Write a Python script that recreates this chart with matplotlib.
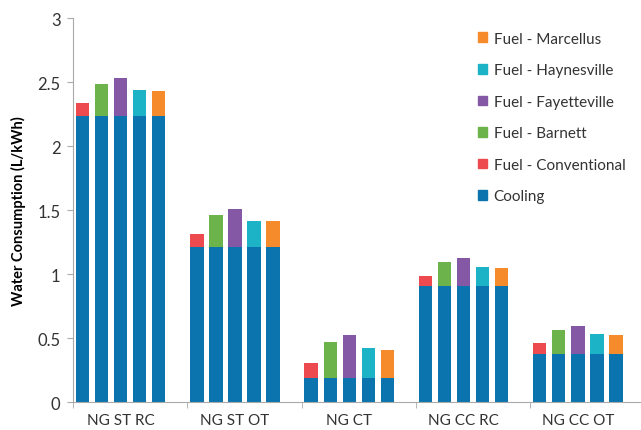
import numpy as np
import matplotlib.pyplot as plt
from matplotlib.patches import Patch

plt.rcParams['font.family'] = ['Lato', 'DejaVu Sans']

# categories
groups = ['NG ST RC', 'NG ST OT', 'NG CT', 'NG CC RC', 'NG CC OT']

# cooling part (same for every bar in a group), L/kWh
cooling = [2.24, 1.215, 0.19, 0.91, 0.378]

# fuel part on top of cooling, L/kWh
fuel_conventional = [0.095, 0.10, 0.118, 0.076, 0.084]
fuel_barnett = [0.245, 0.25, 0.28, 0.183, 0.188]
fuel_fayetteville = [0.293, 0.295, 0.337, 0.214, 0.221]
fuel_haynesville = [0.202, 0.204, 0.23, 0.149, 0.157]
fuel_marcellus = [0.194, 0.199, 0.215, 0.141, 0.149]

fuel_names = ['Fuel - Conventional', 'Fuel - Barnett', 'Fuel - Fayetteville',
              'Fuel - Haynesville', 'Fuel - Marcellus']
fuel_data = [fuel_conventional, fuel_barnett, fuel_fayetteville,
             fuel_haynesville, fuel_marcellus]
fuel_colors = ['#EC4A4E', '#6DB34B', '#8458A4', '#1CB3C6', '#F68B2C']
cool_color = '#0B74AE'

fig = plt.figure(figsize=(6.41, 4.31), dpi=100)
ax = fig.add_axes([0.1139, 0.0644, 0.8916, 0.891])

x = np.arange(len(groups))
slot = 1 / 6
width = slot * 0.7

for j, (vals, col) in enumerate(zip(fuel_data, fuel_colors)):
    pos = x - 0.5 + (j + 0.5) * slot
    ax.bar(pos, cooling, width, color=cool_color, linewidth=0)
    ax.bar(pos, vals, width, bottom=cooling, color=col, linewidth=0)

ax.set_xlim(-0.5, 4.5)
ax.set_ylim(0, 3)
ax.set_yticks(np.arange(0, 3.01, 0.5))
ax.set_yticklabels(['0', '0.5', '1', '1.5', '2', '2.5', '3'])
ax.set_xticks(x - 0.5 + 2.5 * slot)
ax.set_xticklabels(groups)
ax.set_xticks(np.arange(-0.5, 4.6, 1), minor=True)
ax.tick_params(axis='x', which='major', length=0, pad=8, labelsize=11, colors='#333333')
ax.tick_params(axis='x', which='minor', length=4, color='#aaaaaa')
ax.tick_params(axis='y', length=4, color='#aaaaaa', labelsize=12, colors='#333333', pad=5)

for s in ['top', 'right']:
    ax.spines[s].set_visible(False)
ax.spines['left'].set_color('#aaaaaa')
ax.spines['bottom'].set_color('#aaaaaa')

ax.set_ylabel('Water Consumption (L/kWh)', fontsize=10.5, fontweight='bold', labelpad=8)

handles = [Patch(color=c, label=n) for n, c in zip(fuel_names[::-1], fuel_colors[::-1])]
handles.append(Patch(color=cool_color, label='Cooling'))
ax.legend(handles=handles, loc='upper left', bbox_to_anchor=(470 / 641, 1 - 25 / 431),
          bbox_transform=fig.transFigure, frameon=False, fontsize=11,
          handlelength=0.6, handleheight=0.6, handletextpad=0.45,
          labelspacing=1.15, borderpad=0, labelcolor='#333333')

fig.savefig('out.png', dpi=100)
